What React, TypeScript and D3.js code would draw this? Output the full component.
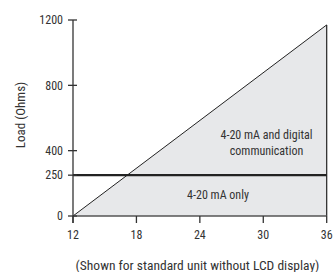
import React from "react";
import * as d3 from "d3";

const xTicks = [12, 18, 24, 30, 36];
const yTicks = [0, 250, 400, 800, 1200];
const supplyVoltage = [12, 36];
const maxLoad = [0, 1170];
const analogOnlyLoad = 250;
const regionLabels = ["4-20 mA and digital", "communication", "4-20 mA only"];
const yAxisTitle = "Load (Ohms)";
const caption = "(Shown for standard unit without LCD display)";

const W = 334, H = 272;
const font = "'Liberation Sans Narrow', 'Arial Narrow', 'Roboto Condensed', 'Liberation Sans', Arial, sans-serif";

export default function App() {
  const x = d3.scaleLinear().domain([12, 36]).range([73, 326.7]);
  const y = d3.scaleLinear().domain([0, 1200]).range([216, 20]);
  const tri: [number, number][] = [
    [supplyVoltage[0], maxLoad[0]],
    [supplyVoltage[1], 0],
    [supplyVoltage[1], maxLoad[1]],
  ];
  const area = d3.line<[number, number]>().x(d => x(d[0])).y(d => y(d[1]));
  const textColor = "#333";
  return (
    <svg width={W} height={H} style={{ position: "absolute", left: 0, top: 0, background: "#fff" }}>
      <path d={area(tri) + "Z"} fill="#e7e8ea" stroke="none" />
      <line x1={x(supplyVoltage[0])} y1={y(maxLoad[0])} x2={x(supplyVoltage[1])} y2={y(maxLoad[1])} stroke="#222" strokeWidth={1} />
      <line x1={x(supplyVoltage[1])} y1={y(0)} x2={x(supplyVoltage[1])} y2={y(maxLoad[1])} stroke="#222" strokeWidth={1.2} />
      <line x1={x(12)} y1={y(0)} x2={x(36)} y2={y(0)} stroke="#555" strokeWidth={1.5} />
      <line x1={x(12)} y1={y(analogOnlyLoad)} x2={x(36)} y2={y(analogOnlyLoad)} stroke="#222" strokeWidth={2.2} />
      <line x1={x(12)} y1={y(0) + 7} x2={x(12)} y2={y(1200)} stroke="#333" strokeWidth={1.3} />
      {yTicks.map(t => (
        <g key={t}>
          <line x1={x(12) - 5} x2={x(12) + 4} y1={y(t)} y2={y(t)} stroke="#333" strokeWidth={1.3} />
          <text x={63} y={y(t)} dy="0.35em" textAnchor="end" fontFamily={font} fontSize={12} fill={textColor}>{t}</text>
        </g>
      ))}
      {xTicks.map(t => (
        <g key={t}>
          <line x1={x(t)} x2={x(t)} y1={y(0)} y2={y(0) + 7} stroke="#333" strokeWidth={1.3} />
          <text x={x(t)} y={235} dy="0.35em" textAnchor="middle" fontFamily={font} fontSize={12} fill={textColor}>{t}</text>
        </g>
      ))}
      <text transform={`translate(20,115) rotate(-90)`} textAnchor="middle" dy="0.35em" fontFamily={font} fontSize={13} fill={textColor}>{yAxisTitle}</text>
      <text x={266.5} y={135} dy="0.35em" textAnchor="middle" fontFamily={font} fontSize={12} fill={textColor}>{regionLabels[0]}</text>
      <text x={266.5} y={151} dy="0.35em" textAnchor="middle" fontFamily={font} fontSize={12} fill={textColor}>{regionLabels[1]}</text>
      <text x={218} y={195} dy="0.35em" textAnchor="middle" fontFamily={font} fontSize={12} fill={textColor}>{regionLabels[2]}</text>
      <text x={197.5} y={265} dy="0.35em" textAnchor="middle" fontFamily={font} fontSize={13.5} fill={textColor}>{caption}</text>
    </svg>
  );
}
